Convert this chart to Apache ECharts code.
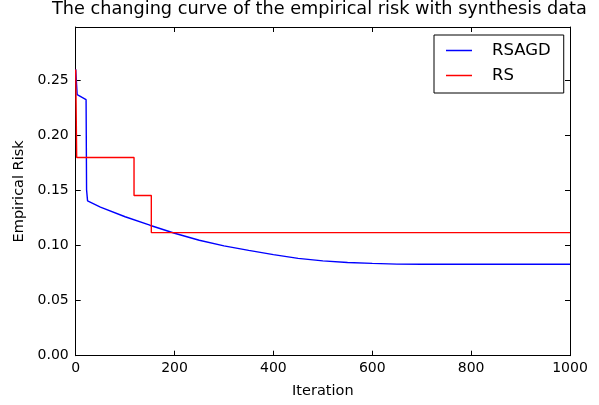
<!DOCTYPE html>
<html>
<head>
<meta charset="utf-8">
<script src="https://cdn.jsdelivr.net/npm/echarts@6/dist/echarts.min.js"></script>
<style>
  html, body { margin: 0; padding: 0; background: #fff; }
  #chart { width: 599px; height: 405px; }
</style>
</head>
<body>
<div id="chart"></div>
<script>
// data
const xTicks = [0, 200, 400, 600, 800, 1000]
const yTicks = [0.00, 0.05, 0.10, 0.15, 0.20, 0.25]

const rsagdIter = [0, 3, 21, 22, 24, 50, 100, 150, 200, 250, 300, 350, 400, 450, 500, 550, 600, 650, 700, 1000]
const rsagdRisk = [0.26, 0.237, 0.2325, 0.1506, 0.1406, 0.135, 0.1262, 0.1185, 0.1112, 0.1048, 0.0997, 0.0956, 0.0918, 0.0884, 0.0861, 0.0847, 0.0838, 0.0832, 0.0831, 0.0831]

const rsIter = [0, 2, 2, 118, 118, 153, 153, 1000]
const rsRisk = [0.26, 0.26, 0.18, 0.18, 0.1455, 0.1455, 0.1118, 0.1118]

const seriesNames = ['RSAGD', 'RS']
const seriesColors = ['#0000ff', '#ff0000']

const font = 'DejaVu Sans'
const ink = '#000'

const toPairs = (xs, ys) => xs.map((x, i) => [x, ys[i]])

const chart = echarts.init(document.getElementById('chart'), null, { renderer: 'canvas' })

const tickStyle = {
  show: true,
  inside: true,
  length: 5,
  lineStyle: { color: ink, width: 1 }
}

const option = {
  backgroundColor: '#fff',
  animation: false,
  title: {
    text: 'The changing curve of the empirical risk with synthesis data',
    left: 52,
    top: 0,
    padding: 0,
    textStyle: { fontFamily: font, fontSize: 17.7, fontWeight: 'normal', color: ink }
  },
  legend: {
    orient: 'vertical',
    left: 434,
    top: 35,
    padding: [7, 13, 9, 12],
    icon: 'rect',
    itemWidth: 26,
    itemHeight: 1.5,
    itemGap: 8,
    borderColor: ink,
    borderWidth: 1,
    backgroundColor: '#fff',
    textStyle: { fontFamily: font, fontSize: 16.5, color: ink, padding: [0, 0, 0, 15] },
    data: seriesNames
  },
  grid: { left: 75.7, right: 29, top: 27, bottom: 49.3 },
  xAxis: [
    {
      type: 'value',
      min: 0,
      max: 1000,
      interval: 200,
      name: 'Iteration',
      nameLocation: 'middle',
      nameGap: 28,
      nameTextStyle: { fontFamily: font, fontSize: 14.5, color: ink },
      axisLine: { show: true, onZero: false, lineStyle: { color: ink, width: 1 } },
      axisTick: tickStyle,
      axisLabel: {
        fontFamily: font, fontSize: 14, color: ink, margin: 6,
        formatter: v => xTicks.includes(v) ? String(v) : ''
      },
      splitLine: { show: false }
    },
    {
      type: 'value',
      position: 'top',
      min: 0,
      max: 1000,
      interval: 200,
      axisLine: { show: true, onZero: false, lineStyle: { color: ink, width: 1 } },
      axisTick: tickStyle,
      axisLabel: { show: false },
      splitLine: { show: false }
    }
  ],
  yAxis: [
    {
      type: 'value',
      min: 0,
      max: 0.2985,
      interval: 0.05,
      name: 'Empirical Risk',
      nameLocation: 'middle',
      nameGap: 41,
      nameTextStyle: { fontFamily: font, fontSize: 14.5, color: ink },
      axisLine: { show: true, onZero: false, lineStyle: { color: ink, width: 1 } },
      axisTick: tickStyle,
      axisLabel: {
        fontFamily: font, fontSize: 14, color: ink, margin: 7,
        showMaxLabel: false,
        formatter: v => yTicks.some(t => Math.abs(t - v) < 1e-9) ? v.toFixed(2) : ''
      },
      splitLine: { show: false }
    },
    {
      type: 'value',
      position: 'right',
      min: 0,
      max: 0.2985,
      interval: 0.05,
      axisLine: { show: true, onZero: false, lineStyle: { color: ink, width: 1 } },
      axisTick: tickStyle,
      axisLabel: { show: false },
      splitLine: { show: false }
    }
  ],
  series: [
    {
      name: seriesNames[0],
      type: 'line',
      symbol: 'none',
      smooth: false,
      xAxisIndex: 0,
      yAxisIndex: 0,
      itemStyle: { color: seriesColors[0] },
      lineStyle: { color: seriesColors[0], width: 1.4 },
      data: toPairs(rsagdIter, rsagdRisk),
      z: 2
    },
    {
      name: seriesNames[1],
      type: 'line',
      symbol: 'none',
      smooth: false,
      xAxisIndex: 0,
      yAxisIndex: 0,
      itemStyle: { color: seriesColors[1] },
      lineStyle: { color: seriesColors[1], width: 1.4 },
      data: toPairs(rsIter, rsRisk),
      z: 3
    }
  ]
}

chart.setOption(option)
</script>
</body>
</html>
